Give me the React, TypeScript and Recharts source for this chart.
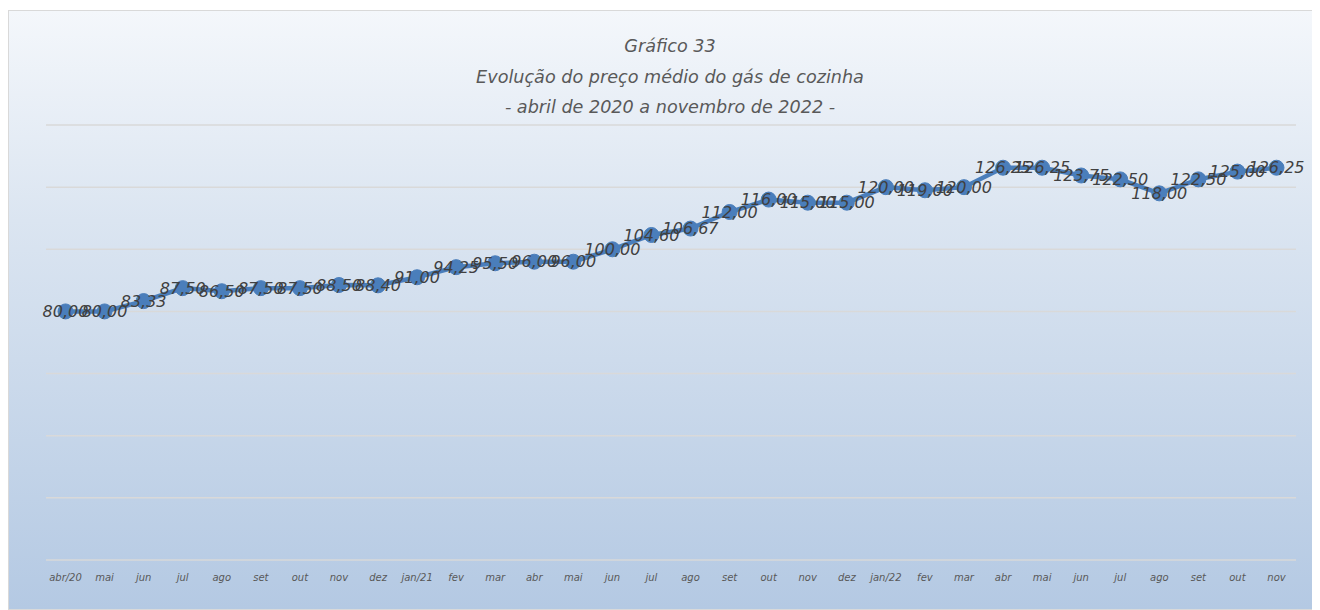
import React from 'react';
import { LineChart, Line, XAxis, YAxis, CartesianGrid, LabelList } from 'recharts';

const months = ['abr/20','mai','jun','jul','ago','set','out','nov','dez','jan/21','fev','mar','abr','mai','jun','jul','ago','set','out','nov','dez','jan/22','fev','mar','abr','mai','jun','jul','ago','set','out','nov'];
const prices = [80.00,80.00,83.33,87.50,86.50,87.50,87.50,88.50,88.40,91.00,94.25,95.50,96.00,96.00,100.00,104.60,106.67,112.00,116.00,115.00,115.00,120.00,119.00,120.00,126.25,126.25,123.75,122.50,118.00,122.50,125.00,126.25];
const yTicks = [0,20,40,60,80,100,120,140];
const titleLines = ['Gráfico 33','Evolução do preço médio do gás de cozinha','- abril de 2020 a novembro de 2022 -'];

const data = months.map((m, i) => ({ key: i, month: m, price: prices[i] }));

const fmt = (v: any) => Number(v).toFixed(2).replace('.', ',');

const tickFmt = (i: any) => months[Number(i)];

export default function App() {
  return (
    <div style={{ position: 'relative', width: 1314, height: 598, marginTop: 2, border: '1px solid #d9d9d9', background: 'linear-gradient(to bottom, #f4f7fb 0%, #dbe5f1 35%, #b4c9e3 100%)', fontFamily: '"DejaVu Sans", sans-serif' }}>
      <div style={{ position: 'absolute', left: 0, width: 1322, top: 20, textAlign: 'center', color: '#595959', fontStyle: 'italic', fontSize: 17.6, lineHeight: '30.5px', fontFamily: '"DejaVu Sans", sans-serif' }}>
        {titleLines.map((t, i) => <div key={i}>{t}</div>)}
      </div>
      <LineChart width={1312} height={598} data={data} margin={{ top: 114, right: 25, bottom: 19, left: 37 }}>
        <CartesianGrid horizontal={true} vertical={false} stroke="#d9d9d9" strokeWidth={1.5} />
        <YAxis hide domain={[0, 140]} ticks={yTicks} type="number" />
        <XAxis dataKey="key" tickFormatter={tickFmt} axisLine={false} tickLine={false} interval={0} height={30}
          padding={{ left: 19.5, right: 19.5 }}
          tick={{ fontSize: 10, fontStyle: 'italic', fill: '#595959', fontFamily: '"DejaVu Sans", sans-serif' }} tickMargin={8} />
        <Line dataKey="price" stroke="#4a7ebb" strokeWidth={4.5} isAnimationActive={false}
          dot={{ r: 7.5, fill: '#4a7ebb', stroke: '#4a7ebb', strokeWidth: 1 }}>
          <LabelList dataKey="price" position="center" formatter={fmt}
            style={{ fontSize: 16, fontStyle: 'italic', fill: '#404040', fontFamily: '"DejaVu Sans", sans-serif' }} />
        </Line>
      </LineChart>
    </div>
  );
}
